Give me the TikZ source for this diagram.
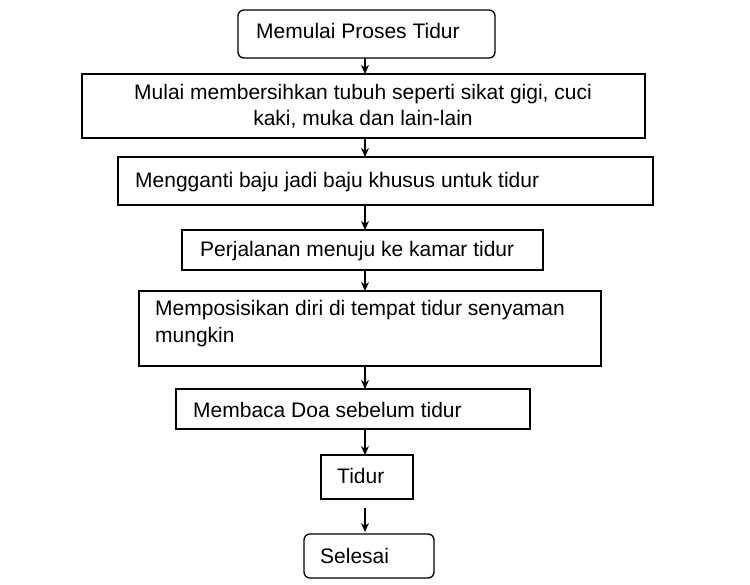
\documentclass[tikz,border=0pt]{standalone}
\usepackage{fontspec}
\setmainfont{Liberation Sans}
\usetikzlibrary{arrows.meta}
\begin{document}
\begin{tikzpicture}[x=1pt,y=-1pt,
  bx/.style={draw,line width=1.3pt,inner sep=0pt},
  lbl/.style={font=\fontsize{21}{26}\selectfont,anchor=west,inner sep=0pt},
  ar/.style={-{Stealth[length=9pt,width=8pt]},line width=1.2pt}]
\useasboundingbox (0,0) rectangle (750,585);
\draw[bx,rounded corners=6pt] (238,10) rectangle (495,58);
\node[lbl] (t1) at (256,31) {Memulai Proses Tidur};
\draw[bx] (82,74) rectangle (645,138);
\node[font=\fontsize{21}{26}\selectfont,align=center,inner sep=0pt] (t2) at (363,106) {Mulai membersihkan tubuh seperti sikat gigi, cuci\\kaki, muka dan lain-lain};
\draw[bx] (118,157) rectangle (653,205);
\node[lbl] (t3) at (135,182) {Mengganti baju jadi baju khusus untuk tidur};
\draw[bx] (182,230) rectangle (543,270);
\node[lbl] (t4) at (200,251) {Perjalanan menuju ke kamar tidur};
\draw[bx] (139,291) rectangle (601,366);
\node[font=\fontsize{21}{27}\selectfont,align=left,anchor=north west,inner sep=0pt] (t5) at (155,300) {Memposisikan diri di tempat tidur senyaman\\mungkin};
\draw[bx] (176,389) rectangle (530,429);
\node[lbl] (t6) at (193,410) {Membaca Doa sebelum tidur};
\draw[bx] (321,455) rectangle (413,499);
\node[lbl] (t7) at (337,476) {Tidur};
\draw[bx,rounded corners=6pt] (304,534) rectangle (434,578);
\node[lbl] (t8) at (320,556) {Selesai};
\coordinate (a1) at (365,58); \coordinate (b1) at (365,74);
\coordinate (a2) at (365,138); \coordinate (b2) at (365,157);
\coordinate (a3) at (365,205); \coordinate (b3) at (365,230);
\coordinate (a4) at (365,270); \coordinate (b4) at (365,291);
\coordinate (a5) at (365,366); \coordinate (b5) at (365,389);
\coordinate (a6) at (365,429); \coordinate (b6) at (365,455);
\coordinate (a7) at (365,508); \coordinate (b7) at (365,532);
\foreach \i in {1,...,7} \draw[ar] (a\i) -- (b\i);
\end{tikzpicture}
\end{document}
